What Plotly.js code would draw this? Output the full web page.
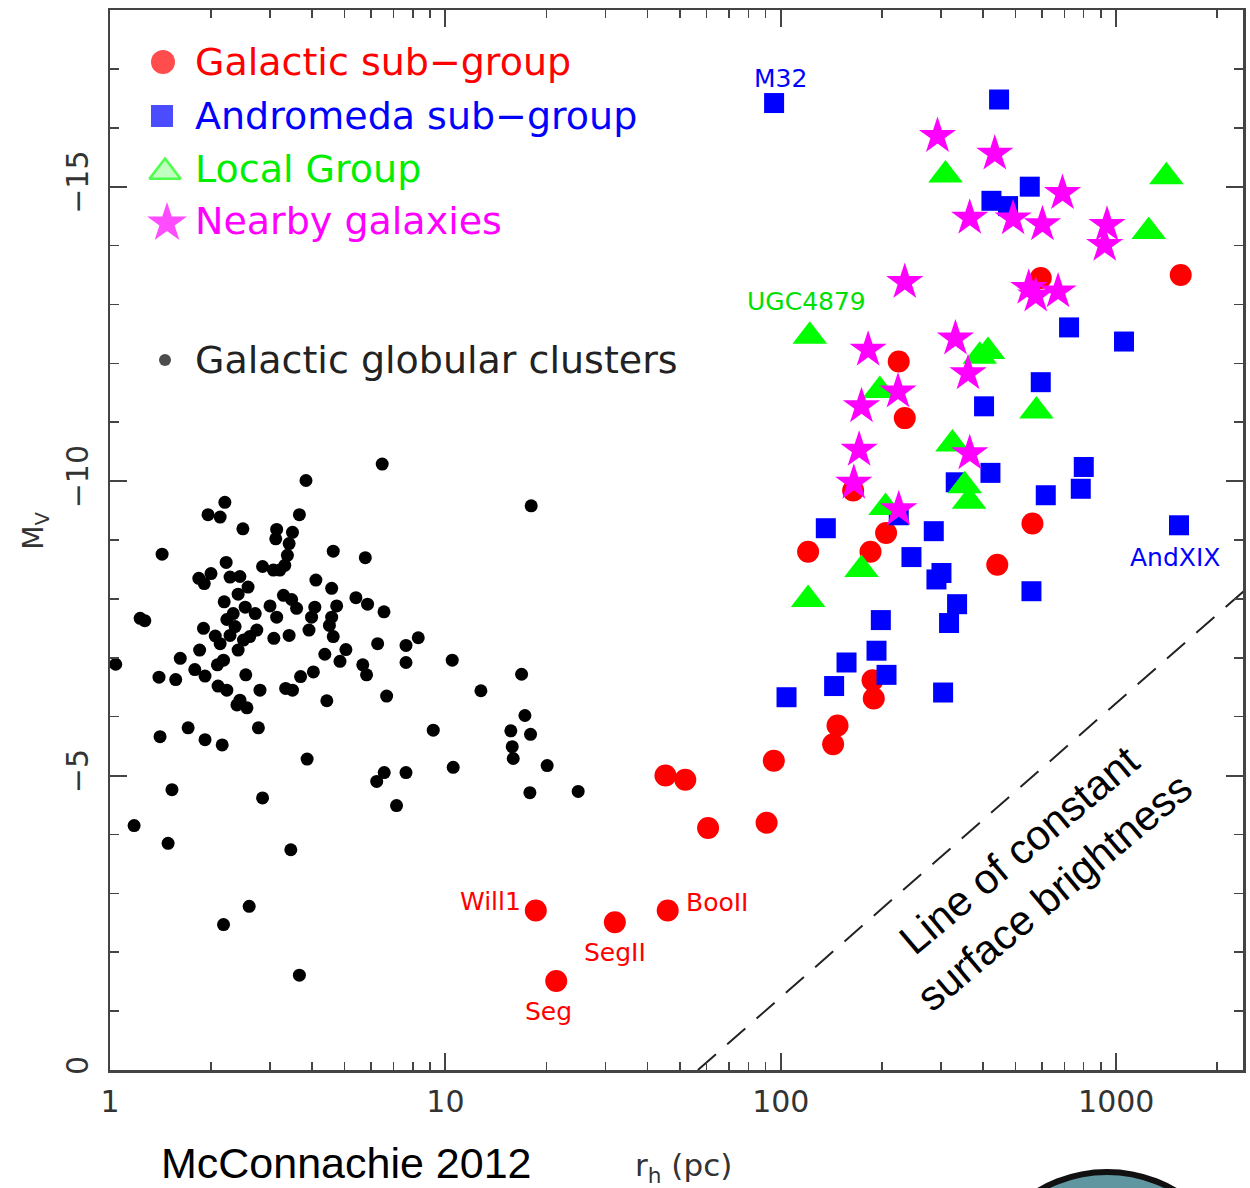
<!DOCTYPE html>
<html>
<head>
<meta charset="utf-8">
<script src="https://cdn.plot.ly/plotly-3.0.1.min.js"></script>
<style>
  html, body { margin: 0; padding: 0; background: #ffffff; }
  #chart { width: 1250px; height: 1188px; }
</style>
</head>
<body>
<div id="chart"></div>
<script>
// Galactic globular clusters: half-light radius (pc) and absolute V magnitude
const gcR = [3.84, 2.20, 1.96, 2.13, 3.67, 2.49, 3.14, 3.50, 3.12, 3.42,
  3.38, 3.32, 3.21, 3.07, 2.85, 1.43, 4.63, 5.77, 2.22, 2.00,
  1.84, 1.91, 2.28, 2.44, 2.58, 2.41, 4.11, 4.58, 2.19, 3.29,
  3.48, 5.41, 5.86, 6.56, 3.00, 3.14, 3.60, 4.08, 3.99, 4.74,
  4.58, 4.51, 2.53, 2.71, 2.33, 2.23, 2.36, 2.74, 2.61, 2.50,
  2.41, 1.23, 1.27, 1.90, 2.06, 2.13, 2.28, 3.08, 3.42, 3.92,
  4.63, 5.05, 4.85, 4.37, 6.28, 1.85, 1.62, 2.18, 2.09, 1.79,
  1.92, 1.40, 1.57, 2.54, 3.70, 4.04, 5.67, 5.82, 6.68, 2.10,
  2.23, 2.80, 3.34, 3.50, 2.44, 2.56, 4.43, 1.71, 2.77, 1.04,
  2.39, 7.63, 10.48, 12.76, 16.87, 17.26, 15.67, 17.94, 15.82, 15.93,
  20.11, 17.86, 24.88, 9.20, 10.55, 7.63, 6.57, 6.24, 7.15, 3.87,
  2.85, 1.41, 1.92, 2.16, 1.53, 1.18, 1.49, 3.46, 2.60, 2.18,
  3.67, 6.48, 18.02, 8.30, 7.63];
const gcMv = [-10.01, -9.64, -9.43, -9.39, -9.43, -9.19, -9.18, -9.13, -9.02, -8.94,
  -8.74, -8.57, -8.49, -8.49, -8.55, -8.76, -8.81, -8.70, -8.62, -8.43,
  -8.35, -8.26, -8.37, -8.38, -8.20, -8.08, -8.32, -8.18, -7.95, -8.06,
  -7.99, -8.02, -7.91, -7.78, -7.88, -7.69, -7.84, -7.86, -7.69, -7.88,
  -7.69, -7.55, -7.86, -7.75, -7.75, -7.65, -7.53, -7.47, -7.36, -7.30,
  -7.13, -7.67, -7.63, -7.50, -7.37, -7.24, -7.38, -7.33, -7.38, -7.47,
  -7.36, -7.14, -6.94, -7.06, -7.24, -7.13, -6.99, -6.96, -6.88, -6.80,
  -6.69, -6.67, -6.63, -6.71, -6.68, -6.76, -6.88, -6.71, -6.35, -6.52,
  -6.45, -6.45, -6.48, -6.45, -6.28, -6.15, -6.27, -5.81, -5.81, -6.89,
  -6.20, -6.92, -6.96, -6.44, -6.72, -6.02, -5.76, -5.70, -5.49, -5.29,
  -5.17, -4.71, -4.73, -5.77, -5.14, -5.05, -5.05, -4.90, -4.49, -5.28,
  -4.62, -5.66, -5.61, -5.52, -4.76, -4.15, -3.85, -3.74, -2.78, -2.47,
  -1.61, -10.29, -9.58, -7.34, -7.21];

// Galactic sub-group (first four: Will1, SegII, BooII, Seg)
const mwR = [18.6, 32.0, 46.0, 21.4, 45.3, 51.9, 60.7, 90.7, 95.3, 147.6,
  143.2, 187.7, 189.3, 441.9, 234.2, 164.3, 206, 120.6, 185.1, 562.6,
  224.7, 595.7, 1557];
const mwMv = [-2.71, -2.51, -2.71, -1.51, -5.00, -4.93, -4.11, -4.20, -5.25, -5.85,
  -5.53, -6.62, -6.31, -8.58, -11.07, -9.84, -9.12, -8.80, -8.80, -9.28,
  -12.03, -13.45, -13.50];

// Andromeda sub-group (first two: M32, AndXIX)
const m31R = [95.5, 1539, 447.5, 552.4, 424.6, 475.9, 723.5, 1055, 595.7, 403.6,
  800.3, 784, 616.6, 421.7, 332.3, 136.2, 285.8, 245.2, 224.7, 301.3,
  291.1, 558.8, 335.4, 317.4, 198.7, 192.9, 157, 206.6, 144.2, 104, 304.7];
const m31Mv = [-16.42, -9.25, -16.48, -15.00, -14.76, -14.67, -12.61, -12.37, -11.68, -11.27,
  -10.24, -9.87, -9.76, -10.14, -9.98, -9.20, -9.15, -8.71, -9.42, -8.44,
  -8.33, -8.13, -7.91, -7.59, -7.64, -7.12, -6.92, -6.71, -6.52, -6.33, -6.41];

// Local Group (first: UGC4879)
const lgR = [122, 309.7, 1411, 1250, 414.8, 391.8, 197.3, 578.2, 324.9, 353.5,
  364.2, 205.2, 174, 120.6];
const lgMv = [-12.46, -15.20, -15.17, -14.24, -12.20, -12.12, -11.54, -11.19, -10.63, -9.92,
  -9.66, -9.55, -8.50, -7.99];

// Nearby galaxies
const nearR = [293.2, 434.5, 691.5, 365.8, 492.6, 602.6, 938.9, 924.1, 234.2, 548.6,
  575.4, 670.8, 331.6, 182.1, 361.6, 223.6, 174, 171.2, 365.8, 165.1, 224.7];
const nearMv = [-15.86, -15.56, -14.89, -14.47, -14.46, -14.36, -14.35, -14.01, -13.38, -13.28,
  -13.15, -13.22, -12.42, -12.23, -11.83, -11.52, -11.27, -10.53, -10.47, -9.97, -9.52];

// Line of constant surface brightness (end points)
const sbR = [56.6, 2400];
const sbMv = [0, -8.13];

// Axis ticks
const xTickVals = [1, 10, 100, 1000];
const xTickText = ['1', '10', '100', '1000'];
const xMinorVals = [2, 3, 4, 5, 6, 7, 8, 9, 20, 30, 40, 50, 60, 70, 80, 90,
  200, 300, 400, 500, 600, 700, 800, 900, 2000];
const yTickVals = [-15, -10, -5, 0];
const yTickText = ['\u221215', '\u221210', '\u22125', '0'];

// Legend entries
const legendLabels = ['Galactic sub\u2212group', 'Andromeda sub\u2212group', 'Local Group',
  'Nearby galaxies', 'Galactic globular clusters'];
const legendColors = ['#ff0000', '#0000ff', '#00ee00', '#ff00ff', '#222222'];

const PG = 'DejaVu Sans, sans-serif';
const RED = '#ff0000', BLUE = '#0000ff', GREEN = '#00ff00', MAG = '#ff00ff';

const traces = [
  { x: sbR, y: sbMv, mode: 'lines', line: { color: '#222', width: 2, dash: '24px,15px' },
    hoverinfo: 'skip' },
  { x: gcR, y: gcMv, mode: 'markers', marker: { symbol: 'circle', size: 13, color: '#000' } },
  { x: mwR, y: mwMv, mode: 'markers', marker: { symbol: 'circle', size: 22, color: RED } },
  { x: m31R, y: m31Mv, mode: 'markers', marker: { symbol: 'square', size: 20, color: BLUE } },
  { x: lgR, y: lgMv, mode: 'markers', marker: { symbol: 'triangle-up', size: 30, color: GREEN } },
  { x: nearR, y: nearMv, mode: 'markers', marker: { symbol: 'star', size: 28, color: MAG } },
  // legend keys, placed on a pixel-scaled overlay axis
  { x: [163, 162, 165, 167, 165], y: [62, 116, 172, 223, 360], xaxis: 'x2', yaxis: 'y2',
    mode: 'markers', hoverinfo: 'skip',
    marker: { symbol: ['circle', 'square', 'triangle-up', 'star', 'circle'],
      size: [24, 22, 27, 30, 12],
      color: [RED, BLUE, 'rgba(0,255,0,0.35)', MAG, '#000'],
      line: { color: [RED, BLUE, GREEN, MAG, '#000'], width: [0, 0, 2.5, 0, 0] } } }
];

const annotations = [];
legendLabels.forEach((t, i) => {
  annotations.push({ xref: 'x2', yref: 'y2', x: 193, y: [62, 116, 169, 221, 360][i],
    xanchor: 'left', yanchor: 'middle', showarrow: false, text: t,
    font: { family: PG, size: 38, color: legendColors[i] } });
});

// Object names next to their points
function nameLabel(text, x, y, dx, dy, color) {
  annotations.push({ x: Math.log10(x), y: y, xref: 'x', yref: 'y', text: text, showarrow: false,
    xanchor: 'center', yanchor: 'middle',
    xshift: dx, yshift: dy, font: { family: PG, size: 25, color: color } });
}
nameLabel('M32', m31R[0], m31Mv[0], 6, 25, BLUE);
nameLabel('AndXIX', m31R[1], m31Mv[1], -4, -32, BLUE);
nameLabel('UGC4879', lgR[0], lgMv[0], -3, 35, '#00e000');
nameLabel('Will1', mwR[0], mwMv[0], -45, 9, RED);
nameLabel('SegII', mwR[1], mwMv[1], 0, -30, RED);
nameLabel('BooII', mwR[2], mwMv[2], 50, 8, RED);
nameLabel('Seg', mwR[3], mwMv[3], -8, -30, RED);

function paperText(text, x, y, angle, font) {
  annotations.push({ xref: 'paper', yref: 'paper', x: x, y: y, showarrow: false,
    xanchor: 'center', yanchor: 'middle', textangle: angle, align: 'center',
    text: text, font: font });
}
paperText('Line of constant<br>surface brightness', 0.818, 0.188, -40,
  { family: 'Liberation Sans, Arial, sans-serif', size: 42, color: '#000' });
paperText('M<sub>V</sub>', -0.066, 0.509, -90, { family: PG, size: 28, color: '#333' });
paperText('r<sub>h</sub> (pc)', 0.506, -0.092, 0, { family: PG, size: 31, color: '#333' });
paperText('McConnachie 2012', 0.209, -0.088, 0,
  { family: 'Liberation Sans, Arial, sans-serif', size: 43, color: '#000' });

const axisCommon = {
  showline: true, linecolor: '#444', linewidth: 2.5, mirror: 'ticks',
  ticks: 'inside', ticklen: 17, tickwidth: 2, tickcolor: '#444',
  showgrid: false, zeroline: false, tickmode: 'array',
  tickfont: { family: PG, size: 30, color: '#333' }
};

const layout = {
  width: 1250, height: 1188,
  margin: { l: 110, r: 7, t: 10, b: 118 },
  paper_bgcolor: '#fff', plot_bgcolor: '#fff',
  showlegend: false,
  xaxis: Object.assign({}, axisCommon, {
    type: 'log', range: [0, 3.378], tickvals: xTickVals, ticktext: xTickText,
    ticklabelstandoff: 3,
    minor: { tickmode: 'array', tickvals: xMinorVals, ticks: 'inside', ticklen: 8,
      tickwidth: 1.5, tickcolor: '#444', showgrid: false }
  }),
  yaxis: Object.assign({}, axisCommon, {
    range: [0, -18], tickvals: yTickVals, ticktext: yTickText, tickangle: -90,
    ticklabelstandoff: 8,
    minor: { dtick: 1, tick0: 0, ticks: 'inside', ticklen: 9, tickwidth: 1.5,
      tickcolor: '#444', showgrid: false }
  }),
  xaxis2: { overlaying: 'x', anchor: 'y2', range: [110, 1243], visible: false, fixedrange: true },
  yaxis2: { overlaying: 'y', anchor: 'x2', range: [1070, 10], visible: false, fixedrange: true },
  annotations: annotations,
  shapes: [
    { type: 'circle', xref: 'paper', yref: 'paper', x0: 0.7617, x1: 0.9982, y0: -0.349, y1: -0.0962,
      fillcolor: '#5f96a0', line: { color: '#111', width: 6 }, layer: 'above' }
  ]
};

Plotly.newPlot('chart', traces, layout, { displayModeBar: false, staticPlot: true });
</script>
</body>
</html>
